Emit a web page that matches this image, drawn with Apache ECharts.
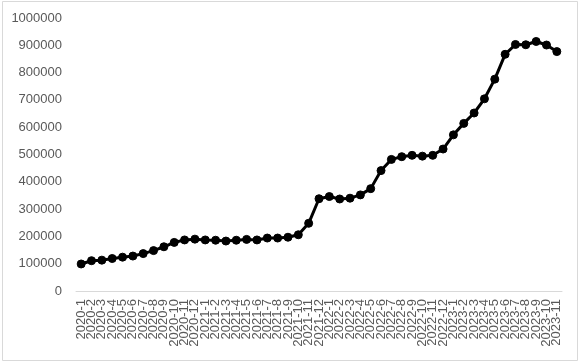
<!DOCTYPE html>
<html>
<head>
<meta charset="utf-8">
<style>
  html, body { margin: 0; padding: 0; background: #ffffff; }
  #chart { width: 580px; height: 363px; }
</style>
<script src="https://cdn.jsdelivr.net/npm/echarts@6/dist/echarts.min.js"></script>
</head>
<body>
<div id="chart"></div>
<script>
const categories = [
  '2020-1','2020-2','2020-3','2020-4','2020-5','2020-6','2020-7','2020-8','2020-9','2020-10','2020-11','2020-12',
  '2021-1','2021-2','2021-3','2021-4','2021-5','2021-6','2021-7','2021-8','2021-9','2021-10','2021-11','2021-12',
  '2022-1','2022-2','2022-3','2022-4','2022-5','2022-6','2022-7','2022-8','2022-9','2022-10','2022-11','2022-12',
  '2023-1','2023-2','2023-3','2023-4','2023-5','2023-6','2023-7','2023-8','2023-9','2023-10','2023-11'
];
const values = [
  99000, 111000, 113000, 119000, 124000, 128000, 137000, 148000, 162000, 178000, 187000, 190000,
  187000, 186000, 183000, 186000, 189000, 187000, 194000, 194000, 197000, 206000, 248000, 338000,
  346000, 337000, 340000, 352000, 375000, 441000, 482000, 492000, 497000, 494000, 497000, 520000,
  572000, 614000, 652000, 704000, 776000, 867000, 903000, 902000, 914000, 901000, 877000
];
const yMin = 0;
const yMax = 1000000;
const yStep = 100000;

const chart = echarts.init(document.getElementById('chart'), null, { renderer: 'canvas' });
const labelFont = { color: '#595959', fontSize: 13, fontFamily: 'Liberation Sans, Arial, sans-serif' };

chart.setOption({
  animation: false,
  backgroundColor: '#ffffff',
  graphic: [{
    type: 'rect',
    shape: { x: 2.5, y: 1.5, width: 575, height: 359 },
    style: { fill: 'none', stroke: '#d9d9d9', lineWidth: 1 },
    silent: true,
    z: 100
  }],
  grid: { left: 76, top: 18, width: 486, height: 273, containLabel: false },
  xAxis: {
    type: 'category',
    data: categories,
    boundaryGap: true,
    axisLine: { show: true, lineStyle: { color: '#d9d9d9', width: 1 } },
    axisTick: { show: false },
    splitLine: { show: false },
    axisLabel: Object.assign({ interval: 0, rotate: 90, margin: 8 }, labelFont)
  },
  yAxis: {
    type: 'value',
    min: yMin,
    max: yMax,
    interval: yStep,
    axisLine: { show: false },
    axisTick: { show: false },
    splitLine: { show: false },
    axisLabel: Object.assign({ margin: 14, formatter: function (v) { return String(v); } }, labelFont)
  },
  series: [{
    type: 'line',
    data: values,
    symbol: 'circle',
    symbolSize: 8,
    lineStyle: { color: '#000000', width: 3 },
    itemStyle: { color: '#000000', borderColor: '#000000' }
  }]
});
</script>
</body>
</html>
